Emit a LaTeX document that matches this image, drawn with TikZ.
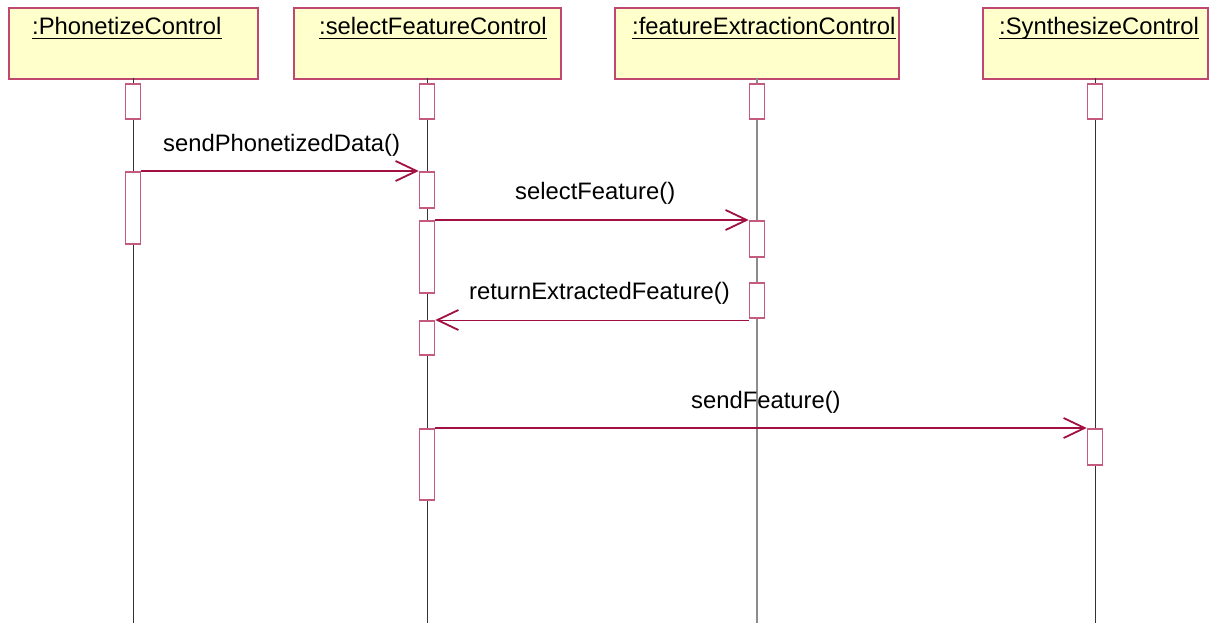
\documentclass[tikz,border=0pt]{standalone}
\usepackage{fontspec}
\setmainfont{Liberation Sans}
\usetikzlibrary{arrows.meta}
\definecolor{msgc}{RGB}{160,16,64}
\definecolor{boxc}{RGB}{192,72,112}
\definecolor{actc}{RGB}{196,90,128}
\definecolor{fillc}{RGB}{255,255,204}
\begin{document}
\begin{tikzpicture}[x=1pt,y=-1pt,
  objbox/.style={draw=boxc,line width=1.6pt,fill=fillc,anchor=north west,inner sep=0pt,minimum height=71pt},
  act/.style={draw=actc,line width=1.6pt,fill=white,anchor=north,inner sep=0pt,minimum width=15pt},
  life/.style={line width=0.9pt,draw=black!80},
  msg/.style={draw=msgc,line width=1.1pt,-{Straight Barb[length=21pt,width=20pt,line width=1.8pt]}},
  ret/.style={draw=msgc,line width=0.8pt,-{Straight Barb[length=21pt,width=20pt,line width=1.8pt]}},
  lbl/.style={anchor=base west,inner sep=0pt,font=\fontsize{23.8}{28}\selectfont},
  ttl/.style={anchor=base west,inner sep=0pt,font=\fontsize{23.8}{28}\selectfont}]
\useasboundingbox (0,0) rectangle (1216,623);
% object boxes
\node[objbox,minimum width=249pt] (b1) at (8,7) {};
\node[objbox,minimum width=267pt] (b2) at (293,7) {};
\node[objbox,minimum width=284pt] (b3) at (614,7) {};
\node[objbox,minimum width=225pt] (b4) at (982,7) {};
% titles
\node[ttl] (t1) at (32,35) {:PhonetizeControl};
\node[ttl] (t2) at (319,35) {:selectFeatureControl};
\node[ttl] (t3) at (632,35) {:featureExtractionControl};
\node[ttl] (t4) at (999,35) {:SynthesizeControl};
\foreach \t in {t1,t2,t3,t4}{
  \draw[line width=1.4pt] ([yshift=-3.5pt]\t.base west) -- ([yshift=-3.5pt]\t.base east);
}
% lifeline ends
\coordinate (e1) at (133,623);
\coordinate (e2) at (427,623);
\coordinate (e3) at (757,623);
\coordinate (e4) at (1095,623);
\coordinate (s1) at (133,78);
\coordinate (s2) at (427,78);
\coordinate (s3) at (757,78);
\coordinate (s4) at (1095,78);
\draw[life] (s1) -- (e1);
\draw[life] (s2) -- (e2);
\draw[line width=1.3pt,draw=black!45] (s3) -- (e3);
\draw[life] (s4) -- (e4);
% activations
\node[act,minimum height=35pt] (a1a) at (133,83) {};
\node[act,minimum height=72pt] (a1b) at (133,171) {};
\node[act,minimum height=35pt] (a2a) at (427,83) {};
\node[act,minimum height=36pt] (a2b) at (427,171) {};
\node[act,minimum height=72pt] (a2c) at (427,220) {};
\node[act,minimum height=34pt] (a2d) at (427,320) {};
\node[act,minimum height=71pt] (a2e) at (427,428) {};
\node[act,minimum height=35pt] (a3a) at (757,83) {};
\node[act,minimum height=36pt] (a3b) at (757,220) {};
\node[act,minimum height=35pt] (a3c) at (757,282) {};
\node[act,minimum height=35pt] (a4a) at (1095,83) {};
\node[act,minimum height=36pt] (a4b) at (1095,428) {};
% messages
\draw[msg] (a1b.north east) -- (a2b.north west);
\draw[msg] (a2c.north east) -- (a3b.north west);
\draw[ret] (a3c.south west |- a2d.north) -- (a2d.north east);
\draw[msg] (a2e.north east) -- (a4b.north west);
% labels
\node[lbl] (m1) at (163,152) {sendPhonetizedData()};
\node[lbl] (m2) at (515,200) {selectFeature()};
\node[lbl] (m3) at (469,299) {returnExtractedFeature()};
\node[lbl] (m4) at (691,408) {sendFeature()};
\end{tikzpicture}
\end{document}
